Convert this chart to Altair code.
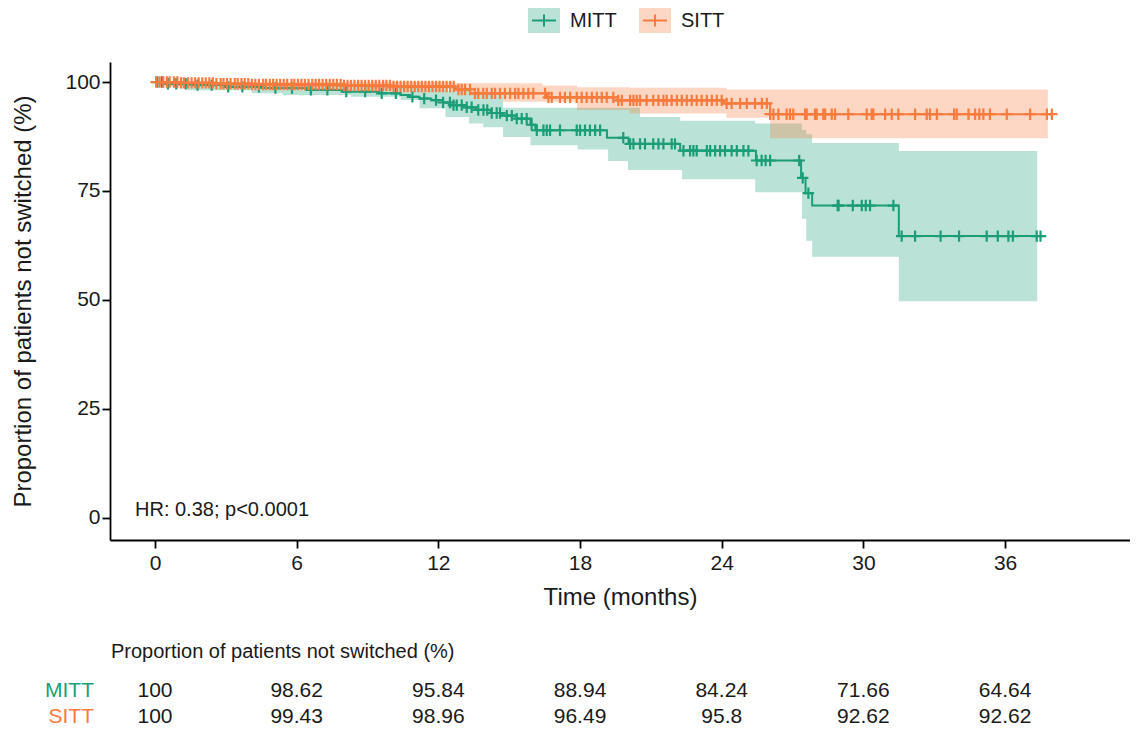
import altair as alt
import pandas as pd
import numpy as np

FONT = "Liberation Sans"
groups = ["MITT", "SITT"]
colors = ["#1b9e77", "#f97b3d"]

# ---- Kaplan-Meier step functions (time in months, % not switched) ----
mitt_step_t = [0, 0.5, 1.5, 3.0, 4.5, 6.5, 8.0, 9.5, 10.4, 10.8, 11.2, 11.7, 12.2, 12.5, 13.0,
               13.6, 14.2, 14.7, 15.3, 15.9, 16.1, 19.14, 20.05, 22.24, 25.45, 27.36, 27.55,
               27.83, 31.5]
mitt_step_s = [100, 99.6, 99.3, 98.9, 98.62, 98.2, 97.8, 97.4, 97.0, 96.6, 96.2, 95.84, 95.3,
               94.7, 94.2, 93.6, 92.9, 92.3, 91.6, 90.2, 88.94, 87.2, 85.8, 84.24, 82.0, 78.0,
               74.5, 71.66, 64.64]
mitt_end = 37.5

sitt_step_t = [0, 1.0, 2.5, 4.0, 8.0, 10.0, 12.7, 13.35, 16.6, 19.6, 24.1, 26.05]
sitt_step_s = [100, 99.8, 99.6, 99.43, 99.2, 98.96, 98.3, 97.4, 96.49, 95.8, 95.1, 92.62]
sitt_end = 37.98

# ---- confidence bands ----
mitt_ci_t = [0, 0.5, 1.36, 4.1, 5.4, 8.3, 10.4, 11.2, 12.3, 13.3, 13.9, 14.74, 15.9, 17.9,
             19.19, 20.03, 20.54, 22.24, 22.32, 25.42, 27.4, 27.58, 27.83, 31.5]
mitt_ci_lo = [100, 99.0, 98.1, 97.4, 97.0, 96.6, 95.9, 94.0, 92.0, 90.5, 89.6, 87.4, 85.5, 84.5,
              81.9, 79.8, 79.8, 79.8, 77.7, 74.7, 68.6, 63.6, 59.9, 49.7]
mitt_ci_hi = [100, 100, 100, 99.8, 99.6, 99.3, 98.9, 98.5, 97.9, 97.4, 97.4, 94.1, 94.1, 94.1,
              94.1, 94.1, 92.0, 91.1, 91.1, 90.5, 89.0, 88.0, 86.0, 84.2]
mitt_ci_end = 37.36

sitt_ci_t = [0, 0.5, 2.5, 5.0, 9.0, 12.7, 13.35, 14.74, 16.4, 17.87, 20.1, 24.2, 26.05]
sitt_ci_lo = [100, 99.6, 99.2, 98.9, 98.5, 97.8, 97.0, 95.5, 95.5, 93.6, 92.8, 91.8, 87.1]
sitt_ci_hi = [100, 100, 100, 100, 100, 99.8, 99.7, 99.7, 99.2, 98.8, 98.7, 98.3, 98.3]
sitt_ci_end = 37.81

# ---- censoring times ----
mitt_cens = [0.1, 0.3, 0.55, 0.9, 1.3, 1.8, 2.4, 3.1, 3.7, 4.4, 5.1, 5.8, 6.6, 7.3, 8.1, 8.9,
             9.6, 10.2, 10.9, 11.4, 11.9, 12.2, 12.49, 12.64, 12.78, 12.99, 13.2, 13.41, 13.69,
             13.91, 14.07, 14.26, 14.47, 14.61, 14.9, 15.11, 15.32, 15.53, 15.74, 15.95, 16.17,
             16.45, 16.59, 16.73, 17.15, 17.86, 18.0, 18.21, 18.42, 18.64, 18.85, 19.83, 20.12,
             20.26, 20.54, 20.75, 21.1, 21.32, 21.53, 21.88, 22.02, 22.38, 22.66, 22.8, 22.94,
             23.37, 23.51, 23.72, 23.93, 24.14, 24.42, 24.64, 24.92, 25.13, 25.48, 25.69, 25.86,
             26.05, 27.28, 27.43, 27.67, 28.91, 28.95, 29.55, 29.93, 30.1, 30.28, 31.27, 31.62,
             32.19, 33.27, 34.05, 35.22, 35.69, 36.14, 36.33, 37.34, 37.5]
sitt_cens = [0.05, 0.2, 0.35, 0.5, 0.62, 0.8, 0.95, 1.1, 1.22, 1.4, 1.55, 1.7, 1.85, 2.0, 2.15,
             2.3, 2.45, 2.6, 2.78, 2.9, 3.05, 3.2, 3.38, 3.5, 3.66, 3.8, 3.95, 4.1, 4.25, 4.4,
             4.58, 4.7, 4.86, 5.0, 5.15, 5.3, 5.45, 5.6, 5.78, 5.9, 6.05, 6.2, 6.35, 6.5, 6.66,
             6.8, 6.95, 7.1, 7.25, 7.4, 7.55, 7.7, 7.86, 8.0, 8.15, 8.3, 8.45, 8.6, 8.75, 8.9,
             9.05, 9.2, 9.35, 9.5, 9.66, 9.8, 9.95, 10.1, 10.25, 10.4, 10.55, 10.7, 10.85, 11.0,
             11.15, 11.3, 11.45, 11.6, 11.75, 11.9, 12.05, 12.2, 12.35, 12.5, 12.65, 12.85, 12.99,
             13.13, 13.34, 13.55, 13.69, 13.9, 14.05, 14.26, 14.4, 14.61, 14.82, 15.04, 15.25,
             15.39, 15.6, 15.81, 16.02, 16.52, 16.66, 16.8, 17.15, 17.36, 17.58, 17.86, 18.07,
             18.28, 18.5, 18.71, 18.92, 19.13, 19.41, 19.62, 19.77, 20.12, 20.26, 20.4, 20.54,
             20.82, 21.1, 21.32, 21.53, 21.67, 21.88, 22.1, 22.31, 22.52, 22.73, 22.94, 23.15,
             23.37, 23.58, 23.79, 24.0, 24.21, 24.42, 24.78, 25.06, 25.41, 25.7, 25.91, 26.05,
             26.19, 26.4, 26.75, 26.89, 27.03, 27.53, 27.6, 27.95, 28.02, 28.3, 28.38, 28.66,
             28.8, 29.36, 30.14, 30.35, 30.42, 30.92, 31.2, 31.48, 32.19, 32.68, 32.82, 33.11,
             33.84, 33.95, 34.45, 34.73, 34.91, 35.08, 35.36, 36.07, 37.06, 37.77, 37.98]

# ---- risk table ----
table_times = [0, 6, 12, 18, 24, 30, 36]
mitt_table = ["100", "98.62", "95.84", "88.94", "84.24", "71.66", "64.64"]
sitt_table = ["100", "99.43", "98.96", "96.49", "95.8", "92.62", "92.62"]

hr_text = "HR: 0.38; p<0.0001"
table_title = "Proportion of patients not switched (%)"


def step_frame(ts, ss, end, g):
    t = list(ts) + [end]
    s = list(ss) + [ss[-1]]
    return pd.DataFrame({"t": t, "s": s, "group": g})


def band_frame(ts, lo, hi, end, g):
    return pd.DataFrame({"t": list(ts) + [end], "s": list(lo) + [lo[-1]],
                         "s2": list(hi) + [hi[-1]], "group": g})


def cens_frame(cens, ts, ss, g):
    idx = np.searchsorted(np.array(ts), np.array(cens), side="right") - 1
    return pd.DataFrame({"t": cens, "s": np.array(ss)[idx], "group": g})


lines = {"MITT": step_frame(mitt_step_t, mitt_step_s, mitt_end, "MITT"),
         "SITT": step_frame(sitt_step_t, sitt_step_s, sitt_end, "SITT")}
bands = {"MITT": band_frame(mitt_ci_t, mitt_ci_lo, mitt_ci_hi, mitt_ci_end, "MITT"),
         "SITT": band_frame(sitt_ci_t, sitt_ci_lo, sitt_ci_hi, sitt_ci_end, "SITT")}
cens = {"MITT": cens_frame(mitt_cens, mitt_step_t, mitt_step_s, "MITT"),
        "SITT": cens_frame(sitt_cens, sitt_step_t, sitt_step_s, "SITT")}

xscale = alt.Scale(domain=[-1.906, 41.29], nice=False, zero=False)
yscale = alt.Scale(domain=[-5.1, 104.6], nice=False, zero=False)
cscale = alt.Scale(domain=groups, range=colors)

X = alt.X("t:Q", scale=xscale,
          axis=alt.Axis(values=table_times, title="Time (months)", titlePadding=12,
                        labelPadding=4))
Y = alt.Y("s:Q", scale=yscale,
          axis=alt.Axis(values=[0, 25, 50, 75, 100], title="Proportion of patients not switched (%)",
                        titlePadding=29, labelPadding=2))
C = alt.Color("group:N", scale=cscale, legend=None)

PLUS = "M-1,0L1,0M0,-1L0,1"

layers = []
for g in groups:
    layers.append(alt.Chart(bands[g]).mark_area(interpolate="step-after", opacity=0.3)
                  .encode(x=X, y=Y, y2="s2:Q", color=C))
for g in groups:
    layers.append(alt.Chart(lines[g]).mark_line(interpolate="step-after", strokeWidth=2)
                  .encode(x=X, y=Y, color=C))
    layers.append(alt.Chart(cens[g]).mark_point(shape=PLUS, filled=False, size=130,
                                                strokeWidth=2.2, opacity=1)
                  .encode(x=X, y=Y, color=C))

# HR annotation
layers.append(alt.Chart(pd.DataFrame({"txt": [hr_text]})).mark_text(
    align="left", baseline="middle", fontSize=20, font=FONT, color="#1a1a1a")
    .encode(x=alt.value(25), y=alt.value(448), text="txt:N"))

# manual legend at top
leg_x = [418, 529]
for g, col, lx in zip(groups, colors, leg_x):
    d = pd.DataFrame({"group": [g]})
    layers.append(alt.Chart(d).mark_rect(color=col, opacity=0.3)
                  .encode(x=alt.value(lx), x2=alt.value(lx + 32), y=alt.value(-54), y2=alt.value(-29)))
    layers.append(alt.Chart(d).mark_rule(color=col, strokeWidth=2)
                  .encode(x=alt.value(lx + 4), x2=alt.value(lx + 28), y=alt.value(-41.5)))
    layers.append(alt.Chart(d).mark_rule(color=col, strokeWidth=2)
                  .encode(x=alt.value(lx + 16), y=alt.value(-47.5), y2=alt.value(-35.5)))
    layers.append(alt.Chart(d).mark_text(align="left", baseline="middle", fontSize=20, font=FONT,
                                         color="#1a1a1a")
                  .encode(x=alt.value(lx + 42), y=alt.value(-41.5), text="group:N"))

# risk table
layers.append(alt.Chart(pd.DataFrame({"txt": [table_title]})).mark_text(
    align="left", baseline="middle", fontSize=20, font=FONT, color="#1a1a1a")
    .encode(x=alt.value(1), y=alt.value(590), text="txt:N"))
row_y = [629, 655]
for g, col, ry, vals in zip(groups, colors, row_y, [mitt_table, sitt_table]):
    layers.append(alt.Chart(pd.DataFrame({"group": [g]})).mark_text(
        align="right", baseline="middle", fontSize=21, font=FONT, color=col)
        .encode(x=alt.value(-16), y=alt.value(ry), text="group:N"))
    layers.append(alt.Chart(pd.DataFrame({"t": table_times, "v": vals})).mark_text(
        align="center", baseline="middle", fontSize=21, font=FONT, color="#1a1a1a")
        .encode(x=alt.X("t:Q", scale=xscale), y=alt.value(ry), text="v:N"))

chart = alt.layer(*layers).properties(
    width=1020, height=478,
    autosize=alt.AutoSizeParams(type="none"),
    padding={"left": 102, "top": 54, "right": 0, "bottom": 189},
).configure_view(stroke=None).configure_axis(
    grid=False, domainColor="black", domainWidth=1.8, tickColor="black", tickWidth=1.8,
    tickSize=8, labelFontSize=21, labelFont=FONT, labelColor="#1a1a1a",
    titleFontSize=24, titleFont=FONT, titleFontWeight="normal", titleColor="#1a1a1a",
)

chart.save("out.html", embed_options={"renderer": "svg", "actions": False})
